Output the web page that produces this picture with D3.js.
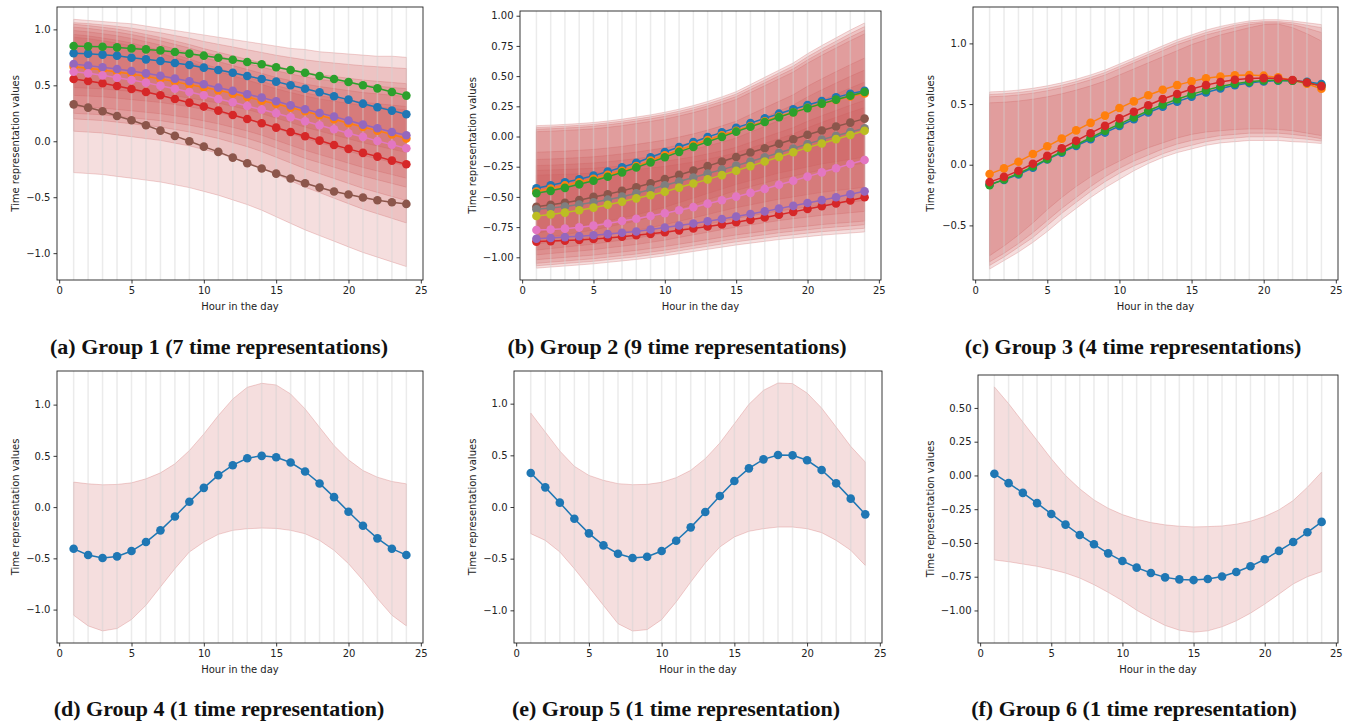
<!DOCTYPE html>
<html>
<head>
<meta charset="utf-8">
<script src="https://cdn.jsdelivr.net/npm/d3@7"></script>
<style>
  body { margin: 0; background: #fff; }
  svg { display: block; }
</style>
</head>
<body>
<svg id="fig" width="1358" height="728"></svg>
<script>
// hours on the x axis
const hours = [1,2,3,4,5,6,7,8,9,10,11,12,13,14,15,16,17,18,19,20,21,22,23,24];
const xTicks = [0,5,10,15,20,25];
const tab10 = ['#1f77b4','#ff7f0e','#2ca02c','#d62728','#9467bd','#8c564b','#e377c2','#7f7f7f','#bcbd22'];
const captions = [
  '(a) Group 1 (7 time representations)',
  '(b) Group 2 (9 time representations)',
  '(c) Group 3 (4 time representations)',
  '(d) Group 4 (1 time representation)',
  '(e) Group 5 (1 time representation)',
  '(f) Group 6 (1 time representation)'
];

// ---- Group 1 : blue, orange, green, red, purple, brown, pink
const g1Values = [
  [0.786,0.783,0.774,0.765,0.747,0.732,0.717,0.699,0.682,0.658,0.637,0.613,0.583,0.557,0.533,0.500,0.470,0.438,0.402,0.372,0.336,0.304,0.274,0.241],
  [0.667,0.652,0.637,0.619,0.601,0.580,0.557,0.533,0.506,0.482,0.455,0.426,0.396,0.363,0.333,0.301,0.268,0.232,0.196,0.161,0.128,0.095,0.060,0.024],
  [0.851,0.848,0.845,0.839,0.830,0.821,0.812,0.798,0.783,0.765,0.747,0.729,0.708,0.688,0.661,0.637,0.613,0.583,0.557,0.530,0.500,0.473,0.440,0.408],
  [0.557,0.539,0.518,0.494,0.467,0.440,0.411,0.378,0.345,0.310,0.274,0.235,0.199,0.161,0.122,0.083,0.045,0.006,-0.033,-0.068,-0.104,-0.137,-0.173,-0.205],
  [0.690,0.676,0.661,0.646,0.628,0.607,0.586,0.560,0.536,0.509,0.479,0.452,0.420,0.390,0.357,0.321,0.286,0.253,0.220,0.185,0.149,0.116,0.083,0.054],
  [0.330,0.301,0.268,0.226,0.188,0.143,0.095,0.048,0.000,-0.048,-0.095,-0.146,-0.196,-0.244,-0.289,-0.333,-0.375,-0.414,-0.449,-0.476,-0.503,-0.527,-0.545,-0.560],
  [0.622,0.607,0.589,0.568,0.548,0.524,0.497,0.470,0.440,0.411,0.378,0.348,0.315,0.283,0.250,0.214,0.179,0.143,0.107,0.071,0.039,0.003,-0.030,-0.063]
];
const g1Upper = [
  [1.09,1.08,1.07,1.06,1.05,1.03,1.01,0.99,0.97,0.95,0.93,0.91,0.89,0.87,0.85,0.83,0.82,0.80,0.79,0.78,0.77,0.76,0.76,0.75],
  [1.06,1.052,1.040,1.027,1.011,0.990,0.970,0.945,0.921,0.892,0.867,0.843,0.818,0.794,0.769,0.748,0.728,0.712,0.699,0.687,0.675,0.666,0.658,0.65],
  [1.045,1.034,1.019,1.003,0.981,0.955,0.928,0.897,0.865,0.828,0.796,0.764,0.732,0.700,0.669,0.642,0.616,0.595,0.579,0.563,0.547,0.536,0.526,0.515],
  [1.02,1.009,0.993,0.976,0.954,0.927,0.899,0.866,0.833,0.795,0.762,0.729,0.696,0.663,0.630,0.602,0.575,0.553,0.536,0.520,0.503,0.492,0.481,0.47],
  [0.99,0.978,0.961,0.943,0.919,0.890,0.860,0.825,0.789,0.748,0.713,0.677,0.642,0.607,0.571,0.542,0.512,0.489,0.471,0.453,0.435,0.424,0.412,0.40],
  [0.955,0.942,0.923,0.903,0.878,0.845,0.813,0.774,0.736,0.691,0.652,0.613,0.574,0.536,0.497,0.465,0.433,0.407,0.387,0.368,0.349,0.336,0.323,0.31],
  [0.93,0.917,0.898,0.878,0.852,0.820,0.787,0.748,0.709,0.664,0.625,0.586,0.547,0.508,0.469,0.436,0.404,0.378,0.358,0.339,0.319,0.306,0.293,0.28]
];
const g1Lower = [
  [-0.28,-0.288,-0.297,-0.314,-0.330,-0.347,-0.364,-0.389,-0.414,-0.448,-0.482,-0.524,-0.566,-0.616,-0.675,-0.734,-0.792,-0.843,-0.893,-0.944,-0.994,-1.036,-1.078,-1.12],
  [0.09,0.082,0.074,0.057,0.041,0.024,0.008,-0.017,-0.041,-0.074,-0.107,-0.148,-0.189,-0.238,-0.295,-0.353,-0.410,-0.459,-0.509,-0.558,-0.607,-0.648,-0.689,-0.73],
  [0.20,0.193,0.185,0.171,0.156,0.142,0.127,0.105,0.083,0.054,0.025,-0.012,-0.048,-0.092,-0.143,-0.194,-0.245,-0.289,-0.333,-0.377,-0.421,-0.457,-0.494,-0.53],
  [0.25,0.243,0.237,0.224,0.210,0.197,0.184,0.164,0.144,0.118,0.092,0.059,0.026,-0.014,-0.060,-0.106,-0.153,-0.192,-0.232,-0.271,-0.311,-0.344,-0.377,-0.41],
  [0.31,0.304,0.297,0.284,0.272,0.259,0.246,0.227,0.208,0.182,0.156,0.124,0.092,0.054,0.009,-0.036,-0.080,-0.119,-0.157,-0.196,-0.234,-0.266,-0.298,-0.33],
  [0.41,0.404,0.397,0.385,0.372,0.360,0.347,0.328,0.309,0.284,0.259,0.227,0.196,0.158,0.114,0.070,0.026,-0.012,-0.050,-0.088,-0.126,-0.157,-0.189,-0.22],
  [0.48,0.474,0.468,0.457,0.445,0.434,0.422,0.405,0.387,0.364,0.341,0.312,0.283,0.248,0.207,0.167,0.126,0.091,0.057,0.022,-0.013,-0.042,-0.071,-0.10]
];

// ---- Group 2 : blue, orange, green, red, purple, brown, pink, gray, olive
const g2Values = [
  [-0.429,-0.404,-0.379,-0.354,-0.324,-0.291,-0.255,-0.217,-0.172,-0.128,-0.087,-0.046,-0.004,0.034,0.073,0.111,0.150,0.189,0.225,0.261,0.294,0.324,0.354,0.379],
  [-0.455,-0.431,-0.405,-0.379,-0.350,-0.318,-0.283,-0.245,-0.200,-0.155,-0.112,-0.071,-0.029,0.010,0.048,0.087,0.126,0.165,0.201,0.238,0.271,0.302,0.331,0.357],
  [-0.470,-0.450,-0.425,-0.396,-0.366,-0.333,-0.297,-0.256,-0.214,-0.172,-0.127,-0.086,-0.043,-0.003,0.040,0.081,0.120,0.160,0.200,0.235,0.272,0.305,0.337,0.368],
  [-0.870,-0.866,-0.862,-0.856,-0.848,-0.840,-0.830,-0.818,-0.806,-0.793,-0.777,-0.762,-0.745,-0.728,-0.710,-0.690,-0.670,-0.647,-0.624,-0.600,-0.578,-0.555,-0.530,-0.503],
  [-0.846,-0.840,-0.833,-0.825,-0.817,-0.808,-0.797,-0.786,-0.770,-0.754,-0.737,-0.720,-0.701,-0.683,-0.663,-0.641,-0.620,-0.597,-0.574,-0.550,-0.527,-0.503,-0.478,-0.454],
  [-0.581,-0.565,-0.548,-0.527,-0.500,-0.478,-0.450,-0.420,-0.387,-0.352,-0.318,-0.282,-0.245,-0.207,-0.170,-0.133,-0.097,-0.060,-0.023,0.015,0.050,0.083,0.115,0.148],
  [-0.774,-0.770,-0.763,-0.752,-0.738,-0.720,-0.700,-0.681,-0.658,-0.636,-0.610,-0.585,-0.556,-0.528,-0.498,-0.467,-0.434,-0.400,-0.366,-0.332,-0.297,-0.263,-0.228,-0.194],
  [-0.603,-0.592,-0.580,-0.563,-0.545,-0.523,-0.498,-0.470,-0.438,-0.404,-0.372,-0.340,-0.307,-0.274,-0.241,-0.207,-0.172,-0.135,-0.099,-0.062,-0.026,0.006,0.038,0.068],
  [-0.658,-0.645,-0.630,-0.611,-0.589,-0.565,-0.540,-0.512,-0.486,-0.457,-0.423,-0.389,-0.355,-0.320,-0.283,-0.245,-0.207,-0.169,-0.131,-0.092,-0.058,-0.022,0.013,0.048]
];
const g2Upper = [
  [0.09,0.094,0.100,0.107,0.116,0.128,0.143,0.161,0.179,0.201,0.226,0.256,0.290,0.328,0.371,0.430,0.490,0.549,0.609,0.685,0.753,0.817,0.881,0.94],
  [0.075,0.079,0.085,0.092,0.100,0.113,0.127,0.144,0.163,0.184,0.209,0.238,0.271,0.309,0.351,0.409,0.467,0.526,0.584,0.660,0.726,0.789,0.852,0.91],
  [0.06,0.064,0.070,0.076,0.085,0.097,0.111,0.128,0.146,0.167,0.191,0.220,0.253,0.290,0.331,0.388,0.445,0.503,0.560,0.634,0.700,0.761,0.823,0.88],
  [0.04,0.044,0.050,0.056,0.064,0.076,0.090,0.107,0.125,0.145,0.170,0.198,0.230,0.267,0.307,0.364,0.421,0.477,0.534,0.607,0.672,0.733,0.793,0.85],
  [-0.13,-0.126,-0.121,-0.114,-0.107,-0.095,-0.082,-0.065,-0.048,-0.029,-0.005,0.022,0.053,0.088,0.127,0.182,0.237,0.291,0.346,0.416,0.478,0.537,0.595,0.65],
  [-0.19,-0.186,-0.181,-0.175,-0.168,-0.157,-0.144,-0.129,-0.112,-0.094,-0.072,-0.046,-0.016,0.017,0.054,0.106,0.158,0.210,0.261,0.328,0.387,0.443,0.498,0.55],
  [-0.24,-0.237,-0.232,-0.226,-0.219,-0.209,-0.197,-0.183,-0.168,-0.150,-0.130,-0.105,-0.078,-0.047,-0.012,0.036,0.084,0.133,0.181,0.243,0.298,0.350,0.402,0.45],
  [-0.28,-0.277,-0.273,-0.268,-0.263,-0.254,-0.244,-0.232,-0.219,-0.205,-0.187,-0.167,-0.144,-0.118,-0.089,-0.048,-0.007,0.033,0.074,0.126,0.172,0.216,0.259,0.30],
  [-0.32,-0.317,-0.313,-0.309,-0.303,-0.295,-0.285,-0.274,-0.261,-0.247,-0.230,-0.211,-0.188,-0.163,-0.135,-0.096,-0.057,-0.018,0.022,0.072,0.117,0.159,0.201,0.24]
];
const g2Lower = [
  [-1.09,-1.081,-1.072,-1.063,-1.054,-1.042,-1.030,-1.018,-1.003,-0.988,-0.970,-0.952,-0.934,-0.916,-0.898,-0.883,-0.868,-0.853,-0.841,-0.829,-0.817,-0.808,-0.799,-0.79],
  [-1.07,-1.061,-1.051,-1.042,-1.033,-1.020,-1.008,-0.996,-0.980,-0.965,-0.946,-0.927,-0.909,-0.890,-0.872,-0.856,-0.841,-0.825,-0.813,-0.800,-0.788,-0.779,-0.769,-0.76],
  [-1.05,-1.040,-1.031,-1.021,-1.012,-0.999,-0.986,-0.973,-0.957,-0.941,-0.922,-0.903,-0.884,-0.864,-0.845,-0.829,-0.813,-0.797,-0.784,-0.772,-0.759,-0.749,-0.740,-0.73],
  [-1.02,-1.010,-1.001,-0.991,-0.982,-0.969,-0.956,-0.943,-0.927,-0.911,-0.892,-0.873,-0.854,-0.834,-0.815,-0.799,-0.783,-0.767,-0.754,-0.742,-0.729,-0.719,-0.710,-0.70],
  [-0.98,-0.969,-0.958,-0.948,-0.937,-0.922,-0.908,-0.894,-0.876,-0.858,-0.836,-0.814,-0.793,-0.771,-0.750,-0.732,-0.714,-0.696,-0.681,-0.667,-0.652,-0.642,-0.631,-0.62],
  [-0.94,-0.928,-0.915,-0.903,-0.891,-0.874,-0.858,-0.842,-0.821,-0.801,-0.776,-0.751,-0.727,-0.702,-0.678,-0.657,-0.637,-0.616,-0.600,-0.583,-0.567,-0.555,-0.542,-0.53],
  [-0.89,-0.876,-0.862,-0.848,-0.834,-0.815,-0.796,-0.777,-0.754,-0.730,-0.702,-0.674,-0.646,-0.617,-0.589,-0.566,-0.542,-0.519,-0.500,-0.481,-0.462,-0.448,-0.434,-0.42],
  [-0.85,-0.831,-0.812,-0.793,-0.774,-0.749,-0.724,-0.699,-0.667,-0.636,-0.598,-0.560,-0.522,-0.485,-0.447,-0.415,-0.384,-0.352,-0.327,-0.302,-0.277,-0.258,-0.239,-0.22],
  [-0.80,-0.781,-0.762,-0.743,-0.724,-0.699,-0.674,-0.649,-0.617,-0.586,-0.548,-0.510,-0.472,-0.435,-0.397,-0.365,-0.334,-0.302,-0.277,-0.252,-0.227,-0.208,-0.189,-0.17]
];

// ---- Group 3 : blue, orange, green, red
const g3Values = [
  [-0.162,-0.125,-0.080,-0.025,0.044,0.100,0.155,0.210,0.265,0.319,0.375,0.430,0.478,0.520,0.560,0.595,0.628,0.655,0.673,0.687,0.693,0.693,0.683,0.665],
  [-0.077,-0.030,0.025,0.088,0.152,0.215,0.283,0.345,0.405,0.467,0.522,0.573,0.618,0.656,0.687,0.712,0.727,0.737,0.740,0.734,0.720,0.696,0.668,0.626],
  [-0.168,-0.122,-0.072,-0.015,0.048,0.107,0.165,0.222,0.280,0.335,0.390,0.445,0.495,0.540,0.580,0.615,0.645,0.668,0.683,0.695,0.697,0.693,0.678,0.650],
  [-0.143,-0.100,-0.050,0.008,0.073,0.135,0.197,0.260,0.320,0.382,0.437,0.490,0.542,0.583,0.624,0.656,0.682,0.700,0.710,0.714,0.711,0.698,0.678,0.648]
];
const g3Upper = [
  [0.60,0.605,0.615,0.63,0.65,0.675,0.705,0.74,0.78,0.83,0.88,0.93,0.98,1.03,1.07,1.11,1.14,1.165,1.185,1.195,1.195,1.185,1.17,1.155],
  [0.58,0.585,0.595,0.61,0.63,0.655,0.685,0.72,0.76,0.81,0.86,0.91,0.96,1.01,1.05,1.09,1.12,1.15,1.17,1.18,1.18,1.17,1.15,1.13],
  [0.56,0.565,0.575,0.59,0.61,0.635,0.665,0.70,0.74,0.79,0.84,0.89,0.94,0.99,1.03,1.07,1.10,1.13,1.155,1.17,1.17,1.155,1.125,1.09],
  [0.51,0.515,0.525,0.54,0.56,0.585,0.615,0.65,0.69,0.74,0.79,0.84,0.89,0.94,0.99,1.03,1.07,1.10,1.13,1.155,1.16,1.13,1.08,1.02]
];
const g3Lower = [
  [-0.86,-0.79,-0.72,-0.64,-0.55,-0.45,-0.36,-0.27,-0.19,-0.12,-0.05,0.01,0.06,0.10,0.13,0.16,0.18,0.19,0.20,0.20,0.20,0.19,0.185,0.175],
  [-0.83,-0.76,-0.68,-0.60,-0.50,-0.40,-0.31,-0.22,-0.14,-0.07,-0.01,0.04,0.09,0.13,0.16,0.19,0.21,0.22,0.23,0.23,0.23,0.22,0.21,0.195],
  [-0.80,-0.73,-0.65,-0.56,-0.46,-0.36,-0.27,-0.18,-0.10,-0.03,0.03,0.08,0.13,0.17,0.20,0.22,0.24,0.25,0.26,0.26,0.26,0.25,0.235,0.215],
  [-0.75,-0.67,-0.58,-0.48,-0.37,-0.27,-0.18,-0.10,-0.03,0.03,0.09,0.14,0.18,0.22,0.25,0.27,0.28,0.29,0.295,0.295,0.29,0.28,0.26,0.24]
];

// ---- Group 4, 5, 6 : one representation each
const g4Values = [-0.406,-0.468,-0.497,-0.481,-0.429,-0.341,-0.227,-0.091,0.052,0.188,0.312,0.409,0.477,0.500,0.487,0.435,0.347,0.231,0.097,-0.045,-0.182,-0.305,-0.406,-0.468];
const g4Upper = [0.244,0.227,0.218,0.221,0.237,0.276,0.334,0.422,0.552,0.714,0.893,1.055,1.169,1.208,1.192,1.104,0.958,0.779,0.601,0.461,0.357,0.292,0.250,0.227];
const g4Lower = [-1.055,-1.159,-1.208,-1.185,-1.097,-0.958,-0.779,-0.601,-0.438,-0.341,-0.266,-0.227,-0.211,-0.205,-0.208,-0.227,-0.260,-0.325,-0.422,-0.552,-0.714,-0.893,-1.055,-1.159];

const g5Values = [0.329,0.190,0.042,-0.113,-0.255,-0.371,-0.452,-0.494,-0.481,-0.426,-0.326,-0.197,-0.048,0.106,0.252,0.374,0.461,0.503,0.500,0.452,0.358,0.229,0.081,-0.071];
const g5Upper = [0.910,0.726,0.542,0.394,0.306,0.258,0.226,0.216,0.219,0.239,0.284,0.355,0.468,0.619,0.806,0.994,1.129,1.200,1.194,1.103,0.958,0.774,0.587,0.435];
const g5Lower = [-0.258,-0.323,-0.435,-0.597,-0.774,-0.952,-1.129,-1.200,-1.187,-1.090,-0.919,-0.726,-0.542,-0.387,-0.290,-0.235,-0.210,-0.194,-0.194,-0.210,-0.248,-0.323,-0.419,-0.565];

const g6Values = [0.012,-0.057,-0.129,-0.205,-0.285,-0.364,-0.441,-0.510,-0.577,-0.634,-0.683,-0.723,-0.755,-0.770,-0.775,-0.767,-0.748,-0.715,-0.673,-0.621,-0.559,-0.493,-0.421,-0.344];
const g6Upper = [0.656,0.532,0.396,0.260,0.124,0.000,-0.099,-0.181,-0.243,-0.290,-0.324,-0.349,-0.366,-0.376,-0.381,-0.379,-0.374,-0.361,-0.339,-0.304,-0.255,-0.186,-0.087,0.025];
const g6Lower = [-0.626,-0.639,-0.656,-0.673,-0.696,-0.723,-0.760,-0.809,-0.866,-0.928,-0.998,-1.057,-1.111,-1.146,-1.161,-1.151,-1.121,-1.077,-1.020,-0.953,-0.879,-0.804,-0.750,-0.713];

// y tick values per panel
const yTicksA = [-1.0,-0.5,0.0,0.5,1.0];
const yTicksB = [-1.0,-0.75,-0.5,-0.25,0.0,0.25,0.5,0.75,1.0];
const yTicksC = [-0.5,0.0,0.5,1.0];
const yTicksF = [-1.0,-0.75,-0.5,-0.25,0.0,0.25,0.5];

const svg = d3.select('#fig');
const bandColor = '#cd5c5c';
const font = '"DejaVu Sans", sans-serif';

const panels = [
  { x0: 57,  x1: 423,  y0: 7,   y1: 280, yDom: [-1.24, 1.20], ticks: yTicksA, fmt: '.1f', labX: 15,  values: g1Values, upper: g1Upper, lower: g1Lower, cap: [219, 354] },
  { x0: 520, x1: 881,  y0: 11,  y1: 280, yDom: [-1.188, 1.039], ticks: yTicksB, fmt: '.2f', labX: 472, values: g2Values, upper: g2Upper, lower: g2Lower, cap: [677, 354] },
  { x0: 973, x1: 1338, y0: 7,   y1: 280, yDom: [-0.95, 1.30], ticks: yTicksC, fmt: '.1f', labX: 930, values: g3Values, upper: g3Upper, lower: g3Lower, cap: [1133, 354] },
  { x0: 57,  x1: 423,  y0: 371, y1: 643, yDom: [-1.326, 1.328], ticks: yTicksA, fmt: '.1f', labX: 15,  values: [g4Values], upper: [g4Upper], lower: [g4Lower], cap: [219, 716] },
  { x0: 514, x1: 882,  y0: 371, y1: 643, yDom: [-1.316, 1.316], ticks: yTicksA, fmt: '.1f', labX: 472, values: [g5Values], upper: [g5Upper], lower: [g5Lower], cap: [676, 716] },
  { x0: 978, x1: 1338, y0: 375, y1: 643, yDom: [-1.241, 0.744], ticks: yTicksF, fmt: '.2f', labX: 930, values: [g6Values], upper: [g6Upper], lower: [g6Lower], cap: [1134, 716] }
];

function drawPanel(p, idx) {
  const x = d3.scaleLinear().domain([-0.15, 25.15]).range([p.x0, p.x1]);
  const y = d3.scaleLinear().domain(p.yDom).range([p.y1, p.y0]);
  const g = svg.append('g');

  // bandes d'incertitude
  p.upper.forEach((up, i) => {
    const lo = p.lower[i];
    const area = d3.area()
      .x((d, j) => x(hours[j]))
      .y0((d, j) => y(lo[j]))
      .y1(d => y(d));
    g.append('path')
      .attr('d', area(up) + 'Z')
      .attr('fill', bandColor)
      .attr('fill-opacity', 0.2)
      .attr('stroke', bandColor)
      .attr('stroke-opacity', 0.28)
      .attr('stroke-width', 1);
  });

  // lignes verticales pour chaque heure
  g.selectAll('.vline')
    .data(hours)
    .enter()
    .append('line')
    .attr('x1', d => x(d)).attr('x2', d => x(d))
    .attr('y1', p.y0).attr('y2', p.y1)
    .style('stroke', '#d3d3d3')
    .style('stroke-opacity', 0.45)
    .style('stroke-width', 1.5);

  // séries
  const line = d3.line().x((d, j) => x(hours[j])).y(d => y(d));
  p.values.forEach((vals, i) => {
    const c = tab10[i];
    g.append('path')
      .attr('d', line(vals))
      .attr('fill', 'none')
      .attr('stroke', c)
      .attr('stroke-width', 1.5);
    g.selectAll(null)
      .data(vals)
      .enter()
      .append('circle')
      .attr('cx', (d, j) => x(hours[j]))
      .attr('cy', d => y(d))
      .attr('r', 4.3)
      .attr('fill', c);
  });

  // axes
  const xAxis = g.append('g')
    .attr('transform', `translate(0,${p.y1})`)
    .call(d3.axisBottom(x).tickValues(xTicks).tickFormat(d3.format('d')).tickSize(3.5).tickPadding(3));
  const yAxis = g.append('g')
    .attr('transform', `translate(${p.x0},0)`)
    .call(d3.axisLeft(y).tickValues(p.ticks).tickFormat(d3.format(p.fmt)).tickSize(3.5).tickPadding(3));
  [xAxis, yAxis].forEach(a => {
    a.select('.domain').remove();
    a.selectAll('line').style('stroke', '#222').style('stroke-width', 0.9);
    a.selectAll('text').style('font-family', font).style('font-size', '10px').style('fill', '#222');
  });

  // cadre
  g.append('rect')
    .attr('x', p.x0).attr('y', p.y0)
    .attr('width', p.x1 - p.x0).attr('height', p.y1 - p.y0)
    .attr('fill', 'none')
    .style('stroke', '#222')
    .style('stroke-width', 0.9);

  // titres des axes
  g.append('text')
    .attr('x', (p.x0 + p.x1) / 2)
    .attr('y', p.y1 + 30)
    .attr('text-anchor', 'middle')
    .style('font-family', font).style('font-size', '10px').style('fill', '#222')
    .text('Hour in the day');
  g.append('text')
    .attr('transform', `translate(${p.labX},${(p.y0 + p.y1) / 2}) rotate(-90)`)
    .attr('text-anchor', 'middle')
    .attr('dy', '0.35em')
    .style('font-family', font).style('font-size', '10px').style('fill', '#222')
    .text('Time representation values');

  // légende sous-figure
  svg.append('text')
    .attr('x', p.cap[0]).attr('y', p.cap[1])
    .attr('text-anchor', 'middle')
    .style('font-family', '"Liberation Serif", "DejaVu Serif", serif')
    .style('font-weight', 'bold')
    .style('font-size', '22px')
    .style('fill', '#111')
    .text(captions[idx]);
}

panels.forEach(drawPanel);
</script>
</body>
</html>
